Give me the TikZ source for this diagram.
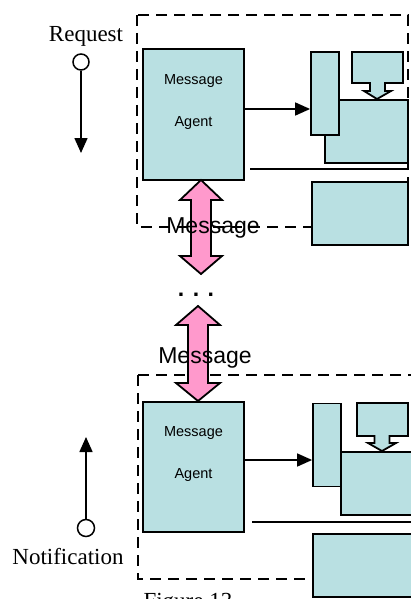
\documentclass[tikz,border=0pt]{standalone}
\usepackage{fontspec}
\setmainfont{Liberation Serif}
\setsansfont{Liberation Sans}
\usetikzlibrary{arrows.meta,positioning,calc}
\definecolor{Box}{RGB}{185,224,226}
\definecolor{Link}{RGB}{255,153,204}

\begin{document}
\begin{tikzpicture}[x=1pt,y=-1pt,
    block/.style={draw, rectangle, fill=Box, line width=1.8pt, inner sep=0pt},
    agent/.style={block, minimum width=101pt, minimum height=131pt},
    agenttext/.style={align=center, font={\sffamily\fontsize{14.5}{42}\selectfont}},
    queue/.style={block, minimum width=28pt, minimum height=83pt},
    store/.style={block, minimum width=83pt, minimum height=63pt},
    extra/.style={block, minimum width=96pt, minimum height=63pt},
    frame/.style={draw, line width=1.8pt, dash pattern=on 11pt off 7pt},
    port/.style={draw, circle, fill=white, line width=1.5pt, minimum size=16pt, inner sep=0pt},
    side/.style={font={\fontsize{23}{27}\selectfont}},
    msglabel/.style={font={\sffamily\fontsize{23}{27}\selectfont}},
    link/.style={draw, fill=Link, line width=1.8pt, line join=miter},
    flow/.style={line width=1.6pt, -{Triangle[length=15pt,width=13pt]}}
    ]
    \useasboundingbox (0,0) rectangle (411,599);

    % upper agent
    \draw[frame] (137,15) rectangle (408,227);
    \node[store] (store1) at (366.5,131.5) {};
    \node[queue] (queue1) at (325,93.5) {};
    \draw[block] (352,52) -- (403,52) -- (403,83) -- (385,83) -- (385,91) -- (391,91)
      -- (377,99) -- (364,91) -- (370,91) -- (370,83) -- (352,83) -- cycle;
    \node[extra] (extra1) at (360,213.5) {};
    \node[agent] (agent1) at (193.5,114.5) {};
    \node[agenttext] (name1) at (193.5,102) {Message\\Agent};
    \coordinate (bar1) at (250,169);
    \draw[line width=1.8pt] (bar1) -- (408,169);
    \draw[flow] (agent1.east |- 0,109) -- (queue1.west |- 0,109);

    % lower agent
    \draw[frame] (138,375) -- (138,579) -- (313,579);
    \draw[frame] (138,375) -- (420,375);
    \node[store] (store2) at (382.5,483.5) {};
    \node[queue] (queue2) at (327,445) {};
    \draw[block] (357,403) -- (408,403) -- (408,436) -- (389.5,436) -- (389.5,443) -- (396,443)
      -- (382,451) -- (368,443) -- (374.5,443) -- (374.5,436) -- (357,436) -- cycle;
    \node[block, minimum width=107pt, minimum height=63pt] (extra2) at (366.5,565.5) {};
    \node[agent, minimum height=130pt] (agent2) at (193.5,467) {};
    \node[agenttext] (name2) at (193.5,454) {Message\\Agent};
    \coordinate (bar2) at (252,522);
    \draw[line width=1.8pt] (bar2) -- (420,522);
    \draw[flow] (agent2.east |- 0,460) -- (queue2.west |- 0,460);

    % messages between agents
    \draw[link] (201,180) -- ++(21,20) -- ++(-11,0) -- ++(0,56) -- ++(11,0) -- ++(-21,18)
      -- ++(-21,-18) -- ++(11,0) -- ++(0,-56) -- ++(-11,0) -- cycle;
    \draw[link] (198,306) -- ++(22,19) -- ++(-12,0) -- ++(0,58) -- ++(12,0) -- ++(-22,18)
      -- ++(-22,-18) -- ++(12,0) -- ++(0,-58) -- ++(-12,0) -- cycle;
    \node[msglabel] (msg1) at (213,228) {Message};
    \node[msglabel] (msg2) at (205,358) {Message};
    \node[font={\sffamily\bfseries\fontsize{23}{27}\selectfont}, anchor=base] (dots) at (196,296) {. . .};

    % request and notification
    \node[side] (reqtext) at (86,36) {Request};
    \node[port] (req) at (81,62) {};
    \coordinate (reqend) at (81,153);
    \draw[flow] (req) -- (reqend);
    \node[side] (nottext) at (68,557) {Notification};
    \node[port, minimum size=17pt] (note) at (86,528) {};
    \coordinate (noteend) at (86,437);
    \draw[flow] (note) -- (noteend);

    \node[side, anchor=base west] (caption) at (140,608) {Figure 13};
\end{tikzpicture}
\end{document}
